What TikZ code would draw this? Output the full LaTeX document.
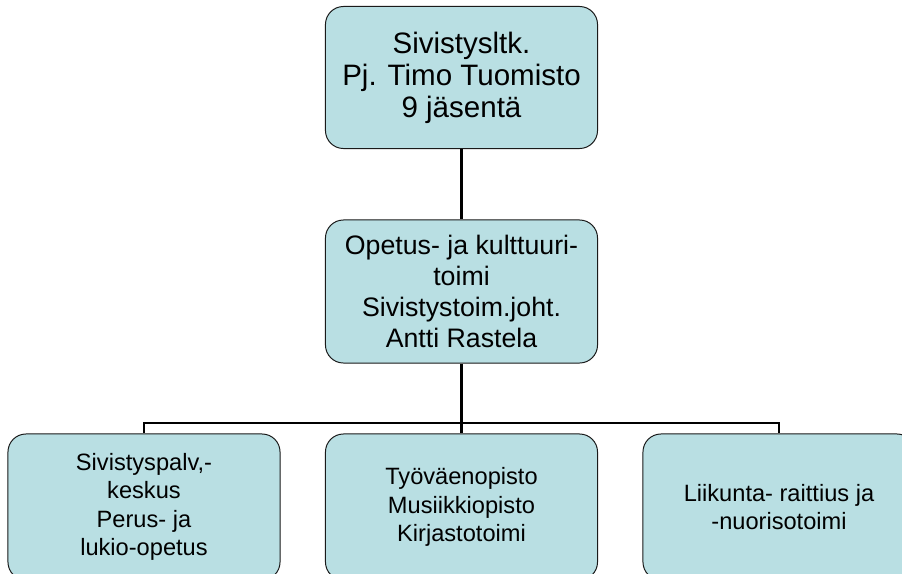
\documentclass[tikz,border=0pt]{standalone}
\usepackage{fontspec}
\setmainfont{Liberation Sans}
\usetikzlibrary{positioning}
\definecolor{boxfill}{HTML}{B9DFE3}
\definecolor{edge}{HTML}{1A1A1A}
\tikzset{
  unit/.style={draw=edge, fill=boxfill, line width=0.7pt, rounded corners=0.45cm,
    minimum width=6.8cm, align=center, inner sep=2pt},
  big/.style={unit, minimum height=3.55cm, font=\fontsize{21}{22.7}\selectfont},
  mid/.style={unit, minimum height=3.575cm, font=\fontsize{19}{22}\selectfont},
  small/.style={unit, minimum height=3.65cm, font=\fontsize{16.8}{20.3}\selectfont},
  wire/.style={draw=black, line width=2pt},
}
\begin{document}
\begin{tikzpicture}[x=0.025cm, y=-0.025cm]
  \useasboundingbox (0,0) rectangle (902,573);
  \clip (0,0) rectangle (902,573);
  \node[big] (ltk) at (461.5,77.5) {Sivistysltk.\\Pj. Timo Tuomisto\\9 jäsentä};
  \node[mid] (toimi) at (461.5,291.5) {Opetus- ja kulttuuri-\\toimi\\Sivistystoim.joht.\\Antti Rastela};
  \node[small] (palv) at (144,507) {Sivistyspalv,-\\keskus\\Perus- ja\\lukio-opetus};
  \node[small] (opisto) at (461.5,507) {Työväenopisto\\Musiikkiopisto\\Kirjastotoimi};
  \node[small] (liik) at (779,507) {Liikunta- raittius ja\\-nuorisotoimi};
  \coordinate (bus) at (461.5,423);
  \draw[wire] (ltk) -- (toimi);
  \draw[wire] (toimi) -- (bus);
  \draw[wire] (bus) -| (palv);
  \draw[wire] (bus) -- (opisto);
  \draw[wire] (bus) -| (liik);
\end{tikzpicture}
\end{document}
